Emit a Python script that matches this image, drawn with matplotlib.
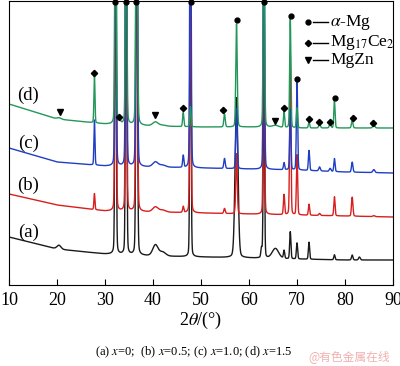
import numpy as np
import matplotlib
matplotlib.use("Agg")
import matplotlib.pyplot as plt

# -------------------------------------------------
# Data
# -------------------------------------------------

# common peak positions (2theta, deg) and widths (FWHM, deg)
peak_pos = [20.4, 27.8, 32.2, 33.0, 34.4, 36.6, 40.5, 42.0, 46.3, 47.8,
            54.9, 57.4, 62.6, 63.1, 65.5, 67.3, 68.6, 70.0, 72.5, 74.7,
            76.9, 77.8, 81.5, 83.0, 86.0]
peak_width = [1.0, 0.25, 0.3, 0.5, 0.3, 0.35, 1.3, 1.5, 0.3, 0.3,
              0.35, 0.35, 0.3, 0.3, 1.6, 0.3, 0.3, 0.3, 0.3, 0.4,
              0.4, 0.3, 0.35, 0.4, 0.5]
peak_width_a = [1.0, 0.25, 0.3, 0.5, 0.3, 0.35, 1.3, 1.5, 0.3, 0.3,
                0.35, 0.7, 0.3, 0.3, 1.6, 0.3, 0.3, 0.3, 0.3, 0.4,
                0.4, 0.3, 0.35, 0.4, 0.5]

# peak heights above background for each sample
height_a = [4, 0, 400, 0, 400, 400, 11, 4, 0, 300, 0, 160, 9, 200, 10,
            8, 27, 16, 17, 0, 0, 5, 5, 3, 0]
height_b = [0, 16, 400, 0, 400, 400, 5, 2, 6, 300, 5, 60, 0, 250, 0,
            20, 160, 60, 11, 2, 0, 19, 19, 0, 1]
height_c = [0, 45, 400, 0, 400, 400, 5, 2, 12, 400, 10, 60, 0, 300, 0,
            7, 60, 90, 20, 4, 3, 13, 10, 0, 3]
height_d = [1.5, 48, 400, 4, 400, 400, 4, 1, 14, 20, 13, 103, 0, 300, 2,
            16, 109, 20, 6, 4, 4, 27, 8, 0, 3]

# background levels (with vertical offset) at these angles
bg_angle = [10, 20, 30, 40, 50, 60, 70, 80, 90]
bg_a = [48, 36, 31, 29, 28, 27, 26, 25, 25]
bg_b = [91, 80, 74, 73, 72, 71, 70, 69, 68]
bg_c = [137, 123, 119, 118, 117, 116, 115, 113, 112]
bg_d = [181, 166, 161, 159, 158, 158, 157, 157, 157]

# phase markers on pattern (d)
mg_x = [32.1, 34.4, 36.5, 47.9, 57.5, 63.1, 68.7, 70.0, 77.9]
mg_y = [283, 283, 283, 283, 265, 283, 269, 206, 187]
ce_x = [27.7, 32.9, 46.2, 54.6, 67.3, 72.5, 74.6, 76.9, 81.7, 85.8]
ce_y = [212, 168, 177, 175, 177, 166, 163, 163, 167, 162]
zn_x = [20.6, 40.4, 65.4]
zn_y = [173, 170, 164]

labels = ["(a)", "(b)", "(c)", "(d)"]
label_y = [53, 100, 142, 190]
colors = ["#1a1a1a", "#d91e1e", "#1f3ec4", "#23975a"]

# -------------------------------------------------
# Build patterns
# -------------------------------------------------

tt = np.linspace(10, 90, 4001)


def pattern(heights, widths, bg):
    y = np.interp(tt, bg_angle, bg)
    for p, h, w in zip(peak_pos, heights, widths):
        if h == 0:
            continue
        d = (tt - p) / (w / 2)
        lor = 1 / (1 + d ** 2)
        gau = np.exp(-np.log(2) * d ** 2)
        y = y + h * (0.15 * lor + 0.85 * gau)
    return y


curves = [
    pattern(height_a, peak_width_a, bg_a),
    pattern(height_b, peak_width, bg_b),
    pattern(height_c, peak_width, bg_c),
    pattern(height_d, peak_width, bg_d),
]

# -------------------------------------------------
# Plot
# -------------------------------------------------

plt.rcParams["font.family"] = ["Liberation Serif", "DejaVu Serif"]
plt.rcParams["mathtext.fontset"] = "stix"

fig = plt.figure(figsize=(4.0, 3.66), dpi=100)
ax = fig.add_axes([9 / 400, 81 / 366, 384 / 400, 284 / 366])

for y, c in zip(curves, colors):
    ax.plot(tt, y, color=c, lw=1.0)

ax.plot(mg_x, mg_y, "o", color="black", ms=3.5, ls="none", clip_on=False)
ax.plot(ce_x, ce_y, "D", color="black", ms=3.2, ls="none", clip_on=False)
ax.plot(zn_x, zn_y, "v", color="black", ms=5, ls="none", clip_on=False)

for lab, ly in zip(labels, label_y):
    ax.text(14, ly, lab, fontsize=13.5, ha="center", va="center")

# legend drawn by hand
leg_items = [("o", 3.5, r"$\alpha$-Mg", 22),
             ("D", 3.2, r"Mg$_{17}$Ce$_2$", 43),
             ("v", 5, "MgZn", 60)]
for mk, ms, txt, py in leg_items:
    yf = (285 - py) / 284
    ax.plot([(308 - 9) / 384], [yf], mk, color="black", ms=ms,
            transform=ax.transAxes)
    ax.plot([(313 - 9) / 384, (328 - 9) / 384], [yf, yf], color="black",
            lw=1.0, transform=ax.transAxes)
    ax.text((330 - 9) / 384, yf, txt, fontsize=12.5, ha="left", va="center",
            transform=ax.transAxes)

ax.set_xlim(10, 90)
ax.set_ylim(0, 284)
ax.set_xticks(range(10, 91, 10))
ax.set_yticks([])
ax.tick_params(axis="x", direction="in", length=4, labelsize=13, pad=5)
ax.set_xlabel(r"2$\theta$/(°)", fontsize=13, labelpad=1)

fig.text(194 / 400, 1 - 352 / 366,
         r"(a) $x$=0;  (b) $x$=0.5; (c) $x$=1.0; (d) $x$=1.5",
         fontsize=9, ha="center", va="center")
fig.text(349 / 400, 1 - 357 / 366, "@有色金属在线", fontsize=8.5,
         color="#f2b0b0", ha="center", va="center",
         family=["Noto Sans CJK SC", "DejaVu Sans"])

fig.savefig("out.png", dpi=100)
